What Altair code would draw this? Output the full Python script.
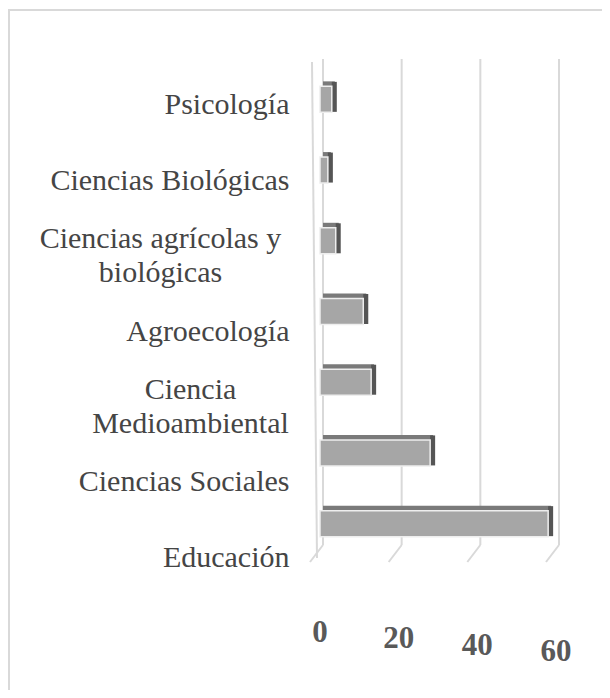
import altair as alt
import pandas as pd

categories = [
    "Psicología",
    "Ciencias Biológicas",
    "Ciencias agrícolas y biológicas",
    "Agroecología",
    "Ciencia Medioambiental",
    "Ciencias Sociales",
    "Educación",
]
values = [3, 2, 4, 11, 13, 28, 58]
tick_values = [0, 20, 40, 60]

df = pd.DataFrame({"cat": categories, "v": values})
ticks = pd.DataFrame({"t": tick_values})
one = pd.DataFrame({"k": [0]})

W, H = 236, 483
GRID = "#d9d9d9"
xs = alt.Scale(domain=[0, 60], nice=False, zero=True)
ybar = alt.Y("cat:N", sort=categories,
             scale=alt.Scale(range=[0, 495], paddingInner=0, paddingOuter=0),
             axis=None)

is_agri = "datum.value == 'Ciencias agrícolas y biológicas'"
is_medio = "datum.value == 'Ciencia Medioambiental'"
multi = is_agri + " || " + is_medio
label_expr = (
    "datum.value == 'Ciencias agrícolas y biológicas' ? ['Ciencias agrícolas y', 'biológicas'] : "
    "datum.value == 'Ciencia Medioambiental' ? ['Ciencia', 'Medioambiental'] : datum.value"
)

frame_top = alt.Chart(one).mark_rule(color=GRID, strokeWidth=2).encode(
    x=alt.value(-311), x2=alt.value(290), y=alt.value(-52)
)
frame_left = alt.Chart(one).mark_rule(color=GRID, strokeWidth=2).encode(
    x=alt.value(-311), y=alt.value(-53), y2=alt.value(700)
)

grid = alt.Chart(ticks).mark_rule(color=GRID, strokeWidth=2, xOffset=3).encode(
    x=alt.X("t:Q", scale=xs, axis=None), y=alt.value(-3), y2=alt.value(H)
)
slant = alt.Chart(ticks).mark_rule(color=GRID, strokeWidth=2, xOffset=3, x2Offset=-10).encode(
    x=alt.X("t:Q", scale=xs, axis=None), x2=alt.X2("t"),
    y=alt.value(H), y2=alt.value(H + 17)
)
wall = alt.Chart(one).mark_rule(color=GRID, strokeWidth=2).encode(
    x=alt.value(-8), x2=alt.value(-3), y=alt.value(0), y2=alt.value(496)
)

labels = alt.Chart(df).mark_point(opacity=0).encode(
    x=alt.value(0),
    y=alt.Y("cat:N", sort=categories,
            scale=alt.Scale(range=[5, 533], paddingInner=0, paddingOuter=0),
            axis=alt.Axis(title=None, orient="left", domain=False, ticks=False, grid=False,
                          labelFont="Liberation Serif", labelFontSize=30,
                          labelColor="#454545", labelLimit=320, labelLineHeight=34,
                          labelExpr=label_expr, labelBaseline="middle",
                          labelAlign={"condition": {"test": multi, "value": "center"}, "value": "right"},
                          labelPadding={"condition": [
                              {"test": is_agri, "value": 160},
                              {"test": is_medio, "value": 130},
                          ], "value": 31},
                          labelOffset={"condition": {"test": multi, "value": -17}, "value": 0})),
)

top = alt.Chart(df).mark_bar(color="#7a7a7a", size=5, yOffset=-13.5, xOffset=3, x2Offset=3).encode(
    x=alt.X("v:Q", scale=xs, axis=None), y=ybar
)
side = alt.Chart(df).mark_bar(color="#555555", size=30, yOffset=-0.5, x2Offset=5).encode(
    x=alt.X("v:Q", scale=xs, axis=None), x2=alt.X2("v"), y=ybar
)
front = alt.Chart(df).mark_bar(color="#a6a6a6", size=26, yOffset=2, stroke="#eeeeee", strokeWidth=1.5).encode(
    x=alt.X("v:Q", scale=xs, axis=None), y=ybar
)

tick_text = alt.Chart(ticks).mark_text(
    font="Liberation Serif", fontSize=31, fontWeight="bold", color="#595959",
    baseline="middle", align="center"
).encode(
    x=alt.X("t:Q", scale=xs, axis=None),
    y=alt.Y("t:Q", scale=alt.Scale(domain=[0, 60], range=[571, 590], nice=False, zero=False), axis=None),
    text=alt.Text("t:Q"),
)

chart = alt.layer(
    frame_top, frame_left, grid, slant, wall, labels, top, side, front, tick_text
).resolve_scale(y="independent").properties(
    width=W, height=H,
    autosize=alt.AutoSizeParams(type="none"),
    padding={"left": 312, "top": 54, "right": 46, "bottom": 145},
).configure_view(stroke=None)

chart.save("out.html", embed_options={"renderer": "svg", "actions": False})
